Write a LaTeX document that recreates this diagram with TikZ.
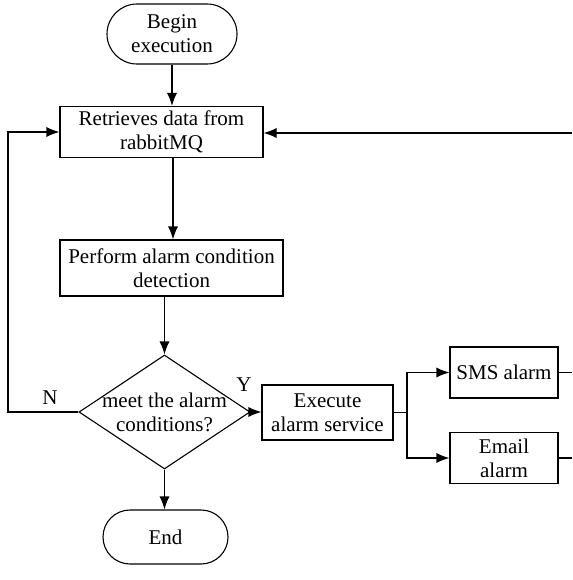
\documentclass[tikz,border=0pt]{standalone}
\usepackage{fontspec}
\setmainfont{Liberation Serif}
\usetikzlibrary{arrows.meta,shapes.geometric}
\begin{document}
\begin{tikzpicture}[x=1pt,y=-1pt,
  every node/.style={font=\fontsize{21}{24}\selectfont, align=center, inner sep=0pt},
  box/.style={draw, line width=1.1pt, rectangle},
  term/.style={draw, line width=1.1pt, rectangle},
  conn/.style={line width=1.1pt, -{Latex[length=13pt,width=10pt]}},
  plain/.style={line width=1.1pt}]
\useasboundingbox (0,0) rectangle (572,580);
\node[term, minimum width=130pt, minimum height=60pt, rounded corners=30pt] (begin) at (172,34) {Begin\\execution};
\node[box, minimum width=203pt, minimum height=51pt] (ret) at (161.5,132) {Retrieves data from\\rabbitMQ};
\node[box, minimum width=223pt, minimum height=56pt] (perf) at (171.5,268) {Perform alarm condition\\detection};
\node[draw, line width=1.1pt, diamond, aspect=1.5, minimum width=171pt, minimum height=114pt] (dec) at (164.5,412) {};
\node at (164.5,412) {meet the alarm\\conditions?};
\node[box, minimum width=131pt, minimum height=55pt] (exec) at (327.5,412.5) {Execute\\alarm service};
\node[box, minimum width=108pt, minimum height=51pt] (sms) at (504,372.5) {SMS alarm};
\node[box, minimum width=108pt, minimum height=51pt] (email) at (504,458) {Email\\alarm};
\node[term, minimum width=125pt, minimum height=54pt, rounded corners=27pt] (end) at (165.5,537) {End};
\coordinate (br) at (407,412.5);
\coordinate (rt) at (572,133);
\coordinate (smsout) at (572,372.5);
\coordinate (emailout) at (572,458);
\coordinate (rp) at (173,157);
\draw[conn] (begin.south) -- (begin.south |- ret.north);
\draw[conn] (ret.south -| rp) -- (perf.north -| rp);
\draw[conn] (perf.south -| dec.north) -- (dec.north);
\draw[conn] (dec.south) -- (end.north -| dec.south);
\draw[conn] (dec.east) -- (exec.west |- dec.east);
\draw[conn] (dec.west) -- (8,412) -- (8,132) -- (ret.west);
\draw[plain] (exec.east) -- (br);
\draw[conn] (br) |- (sms.west);
\draw[conn] (br) |- (email.west);
\draw[plain] (sms.east) -- (smsout);
\draw[plain] (email.east) -- (emailout);
\draw[conn] (rt) -- (ret.east |- rt);
\node (nlab) at (50,398) {N};
\node (ylab) at (244,385) {Y};
\end{tikzpicture}
\end{document}
